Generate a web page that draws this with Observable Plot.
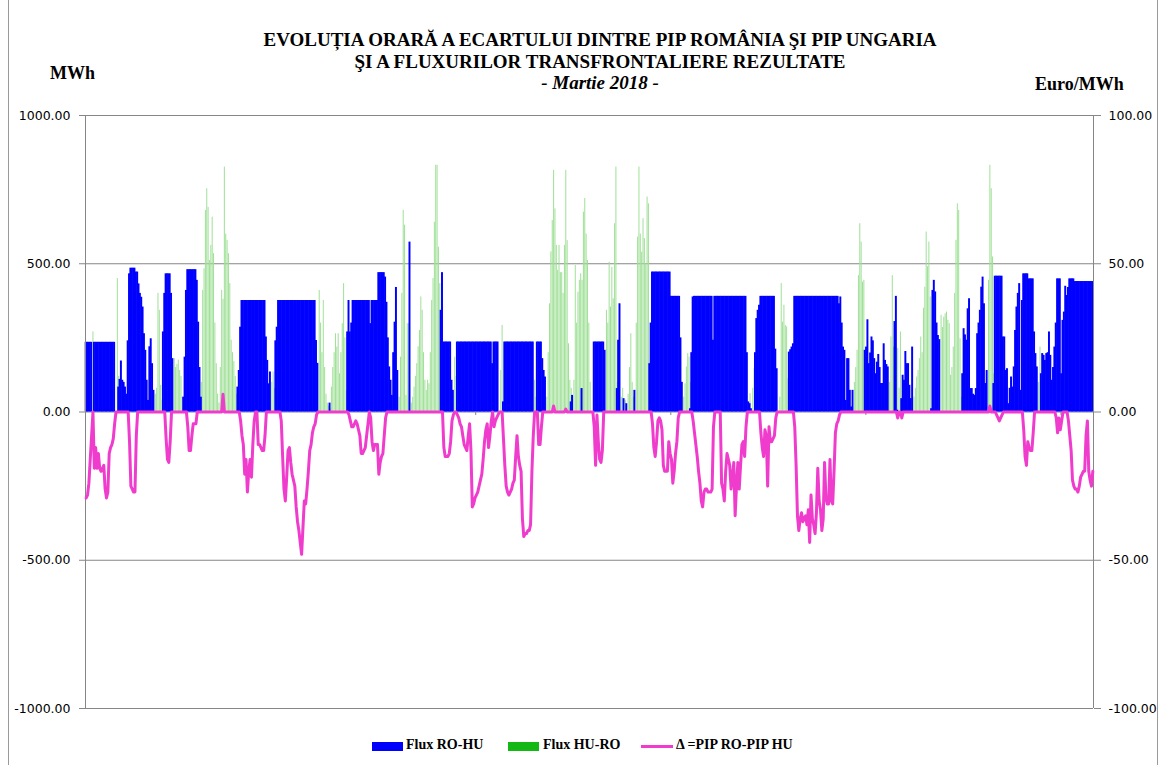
<!DOCTYPE html>
<html><head><meta charset="utf-8">
<script src="https://cdn.jsdelivr.net/npm/d3@7"></script>
<script src="https://cdn.jsdelivr.net/npm/@observablehq/plot@0.6"></script>
<style>
body{margin:0;background:#fff;}
#wrap{position:relative;width:1161px;height:765px;overflow:hidden;background:#fff;}
.t{position:absolute;left:0;width:1200px;text-align:center;font-family:"Liberation Serif","Times New Roman",serif;font-weight:bold;font-size:19px;line-height:21px;color:#000;}
.u{position:absolute;font-family:"Liberation Serif","Times New Roman",serif;font-weight:bold;font-size:18px;color:#000;}
.lg{position:absolute;font-family:"Liberation Serif","Times New Roman",serif;font-weight:bold;font-size:14px;color:#000;top:737px;}
.sw{position:absolute;}
#chart{position:absolute;left:0;top:95px;}
.frame{position:absolute;top:0;width:1px;height:765px;background:#9a9a9a;}
</style></head>
<body><div id="wrap">
<div class="frame" style="left:8px"></div>
<div class="frame" style="left:1157px"></div>
<div class="t" style="top:29px">EVOLUȚIA ORARĂ A ECARTULUI DINTRE PIP ROMÂNIA ŞI PIP UNGARIA</div>
<div class="t" style="top:51px">ŞI A FLUXURILOR TRANSFRONTALIERE REZULTATE</div>
<div class="t" style="top:72px"><i>- Martie 2018 -</i></div>
<div class="u" style="left:50px;top:63px">MWh</div>
<div class="u" style="left:1035px;top:74px">Euro/MWh</div>
<div id="chart"></div>
<div class="sw" style="left:372px;top:742px;width:31px;height:9px;background:#0000ff"></div>
<div class="lg" style="left:406px">Flux RO-HU</div>
<div class="sw" style="left:508px;top:742px;width:31px;height:9px;background:#14b814"></div>
<div class="lg" style="left:543px">Flux HU-RO</div>
<div class="sw" style="left:641px;top:745px;width:32px;height:3px;background:#f03ccc"></div>
<div class="lg" style="left:676px">Δ =PIP RO-PIP HU</div>
</div>
<script>
// Flux RO-HU (MWh), hourly, March 2018 (one row per day)
const roHu = [
235,235,235,235,235,0,235,235,235,235,235,235,235,235,235,235,235,235,235,235,235,235,0,0,
84,110,172,107,100,84,60,240,466,485,485,485,485,472,472,432,400,387,354,264,208,107,39,220,
247,163,73,0,0,0,0,0,0,270,400,466,466,466,466,400,180,0,0,0,0,0,0,0,
50,185,410,480,480,480,480,480,480,480,444,303,150,50,0,0,0,0,0,0,0,0,0,0,
0,0,0,0,0,0,0,0,0,0,0,0,0,0,0,0,84,140,286,376,376,376,376,376,
376,376,376,376,376,376,376,376,376,376,376,376,376,253,174,95,135,0,0,0,240,286,376,376,
376,376,376,376,376,376,376,376,376,376,376,376,376,376,376,376,376,376,376,376,376,376,376,376,
376,376,241,164,0,0,0,0,0,0,0,0,30,0,0,0,0,0,0,0,0,0,0,0,
0,270,376,270,300,376,376,376,376,376,376,376,376,376,376,376,376,376,298,376,376,376,376,376,
470,470,470,470,470,455,370,250,152,107,56,200,303,420,140,0,0,0,0,0,0,0,0,573,
0,0,0,0,0,0,0,0,0,0,0,0,0,0,0,0,0,0,0,0,0,0,343,470,
236,236,236,236,236,236,107,73,0,0,236,236,236,236,236,236,236,236,236,236,236,236,236,236,
236,236,236,236,236,236,236,236,236,236,236,236,163,236,236,236,236,0,0,0,34,236,236,236,
236,236,236,236,236,236,236,236,236,236,236,236,236,236,236,236,236,236,236,0,0,236,236,236,
236,180,140,118,0,0,0,0,0,0,0,0,0,0,0,0,0,0,0,0,0,0,34,56,
0,0,0,0,0,0,79,0,0,0,0,0,0,0,0,236,236,236,236,236,236,236,236,208,
0,0,0,0,0,0,0,0,79,242,365,0,0,45,0,28,0,0,0,0,0,73,0,0,
0,0,0,0,0,0,0,0,163,300,472,472,472,472,472,472,472,472,472,472,472,472,472,472,
390,390,390,390,390,390,390,250,100,0,0,0,0,0,11,200,388,390,390,390,390,390,390,390,
390,390,390,390,390,390,390,242,390,390,390,390,390,390,390,390,390,390,390,390,390,390,390,390,
390,390,390,390,390,390,390,390,200,34,28,11,0,0,200,315,343,360,390,390,390,390,390,390,
390,390,390,390,390,212,146,0,0,0,0,0,0,0,0,202,210,219,230,390,390,390,390,390,
390,390,390,390,390,390,390,390,390,390,390,390,390,390,390,390,390,390,390,390,390,390,390,390,
390,390,390,390,365,388,300,219,208,39,180,180,73,17,73,0,0,0,0,0,0,0,0,208,
219,311,163,199,253,240,180,129,168,194,150,96,96,230,174,160,152,0,0,0,0,305,390,6,
0,0,45,124,107,204,163,163,90,45,219,0,0,0,0,0,0,0,0,0,0,0,0,0,
11,410,444,405,300,258,244,0,0,0,0,0,0,0,0,0,0,0,0,0,0,0,0,129,
281,260,242,348,382,79,79,60,56,79,264,300,343,421,455,365,96,140,0,0,0,0,96,458,
458,458,458,458,458,253,253,140,146,28,80,118,84,152,275,354,400,433,73,376,466,466,466,466,
449,449,449,449,270,197,152,0,0,129,197,191,174,197,200,270,191,107,150,219,300,449,449,449,
129,309,337,424,393,420,449,449,449,449,440,440,440,440,440,440,440,440,440,440,440,440,440,440
];
// Flux HU-RO (MWh)
const huRo = [
0,0,0,0,0,270,0,0,0,0,0,0,0,0,0,0,0,0,0,0,0,0,0,450,
120,0,0,0,0,0,0,0,0,0,0,0,0,0,0,0,0,0,0,0,0,0,0,0,
0,0,0,60,80,400,343,90,40,0,0,0,0,0,0,0,0,180,150,160,175,140,120,50,
0,0,0,0,0,0,0,0,0,0,0,0,0,100,410,483,680,753,690,511,562,657,534,300,
163,60,30,150,410,380,826,600,579,534,433,242,200,170,120,60,0,0,0,0,0,0,0,0,
0,0,0,0,0,0,0,0,0,0,0,0,0,0,0,0,0,100,135,80,0,0,0,0,
0,0,0,0,0,0,0,0,0,0,0,0,0,0,0,0,0,0,0,0,0,0,0,0,
0,0,0,0,410,300,200,376,150,60,30,20,10,84,150,200,264,219,264,129,200,298,433,250,
73,0,0,0,0,0,0,0,0,0,0,0,0,0,0,0,0,0,0,0,0,0,0,0,
0,0,0,0,0,0,0,0,0,0,0,0,0,0,0,50,185,400,680,630,56,298,298,0,
30,50,84,120,163,220,275,388,343,200,107,73,107,95,200,376,450,640,832,832,556,433,0,0,
0,0,0,0,0,0,0,0,185,120,0,0,0,0,0,0,0,0,0,0,0,0,0,0,
0,0,0,0,0,0,0,0,0,0,0,0,0,0,0,0,0,0,140,292,0,0,0,0,
0,0,0,0,0,0,0,0,0,0,0,0,0,0,0,0,0,0,0,107,50,0,0,0,
0,0,0,0,50,200,365,540,646,815,685,562,478,562,470,470,400,562,815,578,230,107,80,50,
107,494,300,404,444,466,444,674,720,600,511,300,100,0,0,0,0,0,0,0,0,0,0,0,
343,300,505,354,488,382,635,826,100,0,0,50,80,0,40,0,60,150,264,100,50,0,300,590,
826,600,539,652,585,500,725,702,0,0,0,0,0,0,0,0,0,0,0,0,0,0,0,0,
0,0,0,0,0,0,0,0,0,50,95,152,197,185,100,0,0,0,0,0,0,0,0,0,
0,0,0,0,0,0,0,0,0,0,0,0,0,0,0,0,0,0,0,0,0,0,0,0,
0,0,0,0,0,0,0,0,0,0,62,0,80,146,0,0,0,0,0,0,0,0,0,0,
0,0,0,0,0,0,0,0,50,433,303,360,292,287,112,0,0,0,0,0,0,0,0,0,
0,0,0,0,0,0,0,0,0,0,0,0,0,0,0,0,0,0,0,0,0,0,0,0,
0,0,0,0,0,0,0,0,0,0,0,0,0,0,0,100,150,208,460,635,573,438,444,100,
0,0,0,0,0,0,0,0,0,0,0,0,0,0,0,0,0,100,253,460,219,0,0,214,
80,270,0,0,0,0,0,0,0,0,0,50,80,118,140,180,253,200,350,421,607,490,573,388,
0,0,0,0,0,0,0,326,285,320,331,337,309,298,124,150,219,400,579,702,680,247,50,0,
0,0,0,0,0,0,0,0,0,0,0,0,0,0,0,0,0,0,444,832,753,523,129,0,
0,0,0,0,0,0,0,0,0,0,0,0,0,0,0,0,0,0,0,0,0,0,0,0,
0,0,0,0,0,0,0,100,219,0,0,0,0,0,0,0,0,0,0,0,0,0,0,0,
0,0,0,0,0,0,0,0,0,0,0,0,0,0,0,0,0,0,0,0,0,0,0,0
];
// Δ = PIP RO - PIP HU (Euro/MWh)
const delta = [
-29,-28,-24,-16,-8,0,-19,-12,-19,-14,-19,-20,-19,-18,-26,-29,-27,-14,-12,-11,-9,-4,0,0,
0,0,0,0,0,0,0,0,-10,-25,-26,-27,-27,-8,0,0,0,0,0,0,0,0,0,0,
0,0,0,0,0,0,0,0,0,0,0,-9,-16,-17,-10,0,0,0,0,0,0,0,0,0,
0,0,0,-5,-13,-13,-8,-4,-4,-4,0,0,0,0,0,0,0,0,0,0,0,0,0,0,
0,0,0,0,0,6,0,0,0,0,0,0,0,0,0,0,0,0,-3,-8,-11,-21,-16,-27,
-20,-16,-22,-11,-3,0,0,-11,-11,-12,-13,-13,-8,0,0,0,0,0,0,0,0,0,0,0,
-3,-15,-26,-30,-22,-13,-12,-17,-21,-23,-25,-32,-37,-40,-44,-48,-39,-30,-31,-26,-20,-13,-11,-7,
-5,-4,-1,0,0,0,0,0,0,0,0,0,0,0,0,0,0,0,0,0,0,0,0,0,
0,0,-1,-3,-5,-5,-4,-3,-4,-6,-8,-14,-14,-13,-12,-8,-4,0,-2,-10,-13,-11,-11,-11,
-21,-17,-15,-14,-8,-2,0,0,0,0,0,0,0,0,0,0,0,0,0,0,0,0,0,0,
0,0,0,0,0,0,0,0,0,0,0,0,0,0,0,0,0,0,0,0,0,0,0,0,
-12,-15,-15,-15,-14,-10,-3,-1,0,0,-1,-2,-4,-5,-8,-11,-12,-13,-8,-4,-13,-32,-31,-29,
-28,-27,-25,-23,-21,-16,-10,-6,-4,-12,-8,-3,0,-5,-3,-2,-1,0,0,0,-9,-18,-25,-27,
-28,-27,-26,-24,-23,-15,-8,-15,-18,-20,-36,-42,-41,-41,-40,-40,-38,-20,-8,0,0,0,-11,-11,
-5,0,0,0,0,0,0,0,0,2,0,0,0,0,0,0,0,0,1,0,0,0,0,0,
0,0,0,0,0,0,0,0,0,0,0,0,0,0,0,-5,-18,-1,-10,-16,-17,-13,0,0,
0,0,0,0,0,0,0,0,0,0,0,0,0,0,0,0,0,0,0,0,0,0,0,0,
0,0,0,0,0,0,0,0,0,0,-4,-12,-15,-10,-3,-2,-3,-6,-18,-20,-20,-20,-10,-14,
-16,-24,-20,-14,-10,-2,0,0,0,0,0,0,0,0,0,0,-3,-7,-11,-15,-20,-24,-30,-32,
-27,-26,-26,-27,-27,-27,-26,-5,0,0,0,0,0,-24,-26,-30,-20,-14,-16,-18,-26,-22,-17,-35,
-25,-17,-26,-18,-11,-10,-15,-5,0,0,0,0,0,0,0,0,0,0,-7,-12,-15,-6,-8,-25,
-5,-10,-10,-9,-8,-2,0,0,0,0,0,0,0,0,0,0,0,0,0,-5,-18,-35,-40,-36,
-34,-37,-36,-35,-38,-33,-44,-28,-36,-38,-41,-34,-19,-30,-33,-40,-36,-17,-29,-31,-31,-16,-30,-31,
-20,-7,-4,-3,-1,0,0,0,0,0,0,0,0,0,0,0,0,0,0,0,0,0,0,0,
0,0,0,0,0,0,0,0,0,0,0,0,0,0,0,0,0,0,0,0,0,0,0,-2,
0,0,-2,0,0,0,0,0,0,0,0,0,0,0,0,0,0,0,0,0,0,0,0,0,
0,0,0,0,0,0,0,0,0,0,0,0,0,0,0,0,0,0,0,0,0,0,0,0,
0,0,0,0,0,0,0,0,0,0,0,0,0,0,0,0,0,0,0,2,0,0,0,0,
-1,-2,-3,-2,-1,0,0,0,0,0,0,0,0,0,0,0,0,0,0,0,-6,-15,-18,-10,
-12,-13,-13,-7,0,0,0,0,0,0,0,0,0,0,0,0,0,0,0,0,-2,-7,-2,-6,
-3,0,0,0,0,-3,-8,-13,-23,-25,-26,-26,-27,-25,-22,-21,-20,-20,-8,-3,-20,-23,-25,-20
];
const leftTicks = [1000, 500, 0, -500, -1000];   // MWh
const rightTicks = [100, 50, 0, -50, -100];      // Euro/MWh
const categoryTicks = [0, 144, 288, 432, 576, 720]; // hour index of category-axis tick marks

const N = roHu.length;
const blueData = roHu.map((v, h) => ({h, v}));
const greenData = huRo.map((v, h) => ({h, v})).filter(d => d.v > 0);
const deltaData = delta.map((v, h) => ({h, v}));
const ratio = 1000 / 100; // right axis 100 <-> left axis 1000

const chart = Plot.plot({
  width: 1161, height: 640,
  marginLeft: 85, marginRight: 68, marginTop: 20, marginBottom: 27,
  x: {domain: [0, N], axis: null},
  y: {domain: [-1000, 1000], axis: null},
  style: {fontFamily: "DejaVu Sans, Verdana, sans-serif", fontSize: "12.5px", color: "#000", background: "transparent"},
  marks: [
    Plot.ruleY(leftTicks, {stroke: "#868686", strokeWidth: 1}),
    Plot.ruleX(greenData, {x: d => d.h + 0.5, y1: 0, y2: "v", stroke: "#9fe097", strokeWidth: 1}),
    Plot.rectY(blueData, {x1: "h", x2: d => d.h + 1, y1: 0, y2: "v", fill: "#0000ff", insetLeft: -0.3, insetRight: -0.3}),
    Plot.ruleX([0, N], {stroke: "#868686", strokeWidth: 1}),
    Plot.ruleX(categoryTicks, {y1: 0, y2: -12, stroke: "#868686"}),
    Plot.lineY(deltaData, {x: d => d.h + 0.5, y: d => d.v * ratio, stroke: "#f03ccc", strokeWidth: 3, curve: "linear"}),
    Plot.axisY({anchor: "left", label: null, ticks: leftTicks, tickFormat: d => d.toFixed(2), tickSize: 6, tickPadding: 9, stroke: "#868686", fill: "#000"}),
    Plot.axisY({anchor: "right", label: null, ticks: rightTicks.map(v => v * ratio), tickFormat: d => (d / ratio).toFixed(2), tickSize: 7, tickPadding: 8, stroke: "#868686", fill: "#000"})
  ]
});
document.getElementById("chart").appendChild(chart);
</script>
</body></html>
